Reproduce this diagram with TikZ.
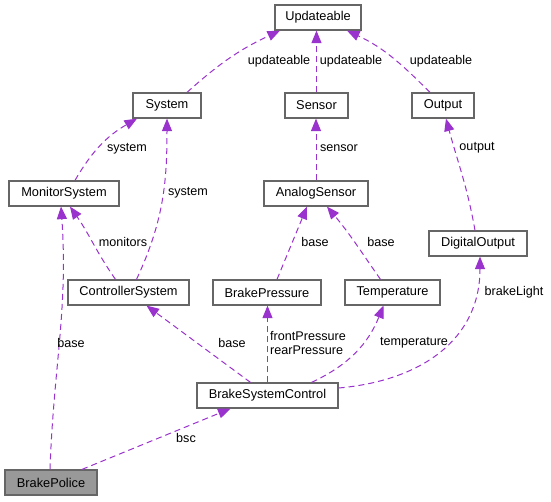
\documentclass[tikz,border=0pt]{standalone}
\usepackage{fontspec}
\setmainfont{Liberation Sans}
\usetikzlibrary{arrows.meta}
\definecolor{edgepurple}{HTML}{9A32CD}
\definecolor{boxgray}{HTML}{666666}
\definecolor{fillgray}{HTML}{999999}

\begin{document}
\begin{tikzpicture}[x=1pt,y=-1pt,
                    class node/.style={rectangle,draw=boxgray,line width=1.2pt,minimum height=25pt,
                                       inner sep=0pt,font=\fontsize{12.8}{15}\selectfont},
                    ref/.style={draw,color=edgepurple,line width=1pt,dash pattern=on 6pt off 4pt,
                                -{Triangle[length=12.5pt,width=10pt]}},
                    lbl/.style={inner sep=0pt,align=left,font=\fontsize{12.6}{14}\selectfont}]

  \useasboundingbox (0,0) rectangle (551,501);

  \node[class node,minimum width=86pt] (upd) at (318,17.5) {Updateable};
  \node[class node,minimum width=68pt] (sys) at (167,105.5) {System};
  \node[class node,minimum width=63pt] (sen) at (316.5,105.5) {Sensor};
  \node[class node,minimum width=62pt] (out) at (443,105.5) {Output};
  \node[class node,minimum width=110pt] (mon) at (64,193.5) {MonitorSystem};
  \node[class node,minimum width=104pt] (ana) at (316,193.5) {AnalogSensor};
  \node[class node,minimum width=98pt] (dig) at (478,243.5) {DigitalOutput};
  \node[class node,minimum width=121pt] (ctl) at (128.5,292.5) {ControllerSystem};
  \node[class node,minimum width=108pt] (bpr) at (267,292.5) {BrakePressure};
  \node[class node,minimum width=95pt] (tmp) at (392.5,292.5) {Temperature};
  \node[class node,minimum width=141pt] (bsc) at (267.5,395.5) {BrakeSystemControl};
  \node[class node,minimum width=92pt,fill=fillgray] (pol) at (51,482.5) {BrakePolice};

  \path[every edge/.style=ref]
    ([xshift=20pt]sys.north) edge[out=42,in=-155] ([xshift=-38pt]upd.south)
    (sen.north) edge (sen.north |- upd.south)
    ([xshift=-13pt]out.north) edge[out=135,in=-25] ([xshift=29pt]upd.south)
    ([xshift=11pt]mon.north) edge[out=60,in=-150] ([xshift=-30pt]sys.south)
    ([xshift=8pt]ctl.north) edge[out=65,in=-90] (sys.south)
    ([xshift=-13pt]ctl.north) edge[out=125,in=-55] ([xshift=6pt]mon.south)
    (ana.north) edge (ana.north |- sen.south)
    ([xshift=-3pt]dig.north) edge[out=100,in=-75] ([xshift=3pt]out.south)
    ([xshift=10pt]bpr.north) edge ([xshift=-9pt]ana.south)
    ([xshift=-12pt]tmp.north) edge[out=125,in=-50] ([xshift=11pt]ana.south)
    ([xshift=-1pt]pol.north) edge[out=88,in=-86] ([xshift=-3pt]mon.south)
    ([xshift=-17pt]bsc.north) edge ([xshift=18pt]ctl.south)
    (bsc.north) edge (bsc.north |- bpr.south)
    ([xshift=44pt]bsc.north) edge[out=25,in=-112] ([xshift=-9pt]tmp.south)
    ([yshift=7.5pt]bsc.east) edge[out=5,in=-90,looseness=1.1] ([xshift=2pt]dig.south)
    ([xshift=31pt]pol.north) edge ([xshift=-37pt]bsc.south);

  \node[lbl] (l1) at (279,61) {updateable};
  \node[lbl] (l2) at (351,61) {updateable};
  \node[lbl] (l3) at (441,61) {updateable};
  \node[lbl] (l4) at (127,149) {system};
  \node[lbl] (l5) at (188,193) {system};
  \node[lbl] (l6) at (123,242) {monitors};
  \node[lbl] (l7) at (339,148) {sensor};
  \node[lbl] (l8) at (477,148) {output};
  \node[lbl] (l9) at (315,242) {base};
  \node[lbl] (l10) at (381,242) {base};
  \node[lbl] (l11) at (71,343) {base};
  \node[lbl] (l12) at (232,343) {base};
  \node[lbl,anchor=west] (l13) at (270,343) {frontPressure\\rearPressure};
  \node[lbl] (l14) at (414,343) {temperature};
  \node[lbl] (l15) at (514,292) {brakeLight};
  \node[lbl] (l16) at (186,438) {bsc};
\end{tikzpicture}
\end{document}
